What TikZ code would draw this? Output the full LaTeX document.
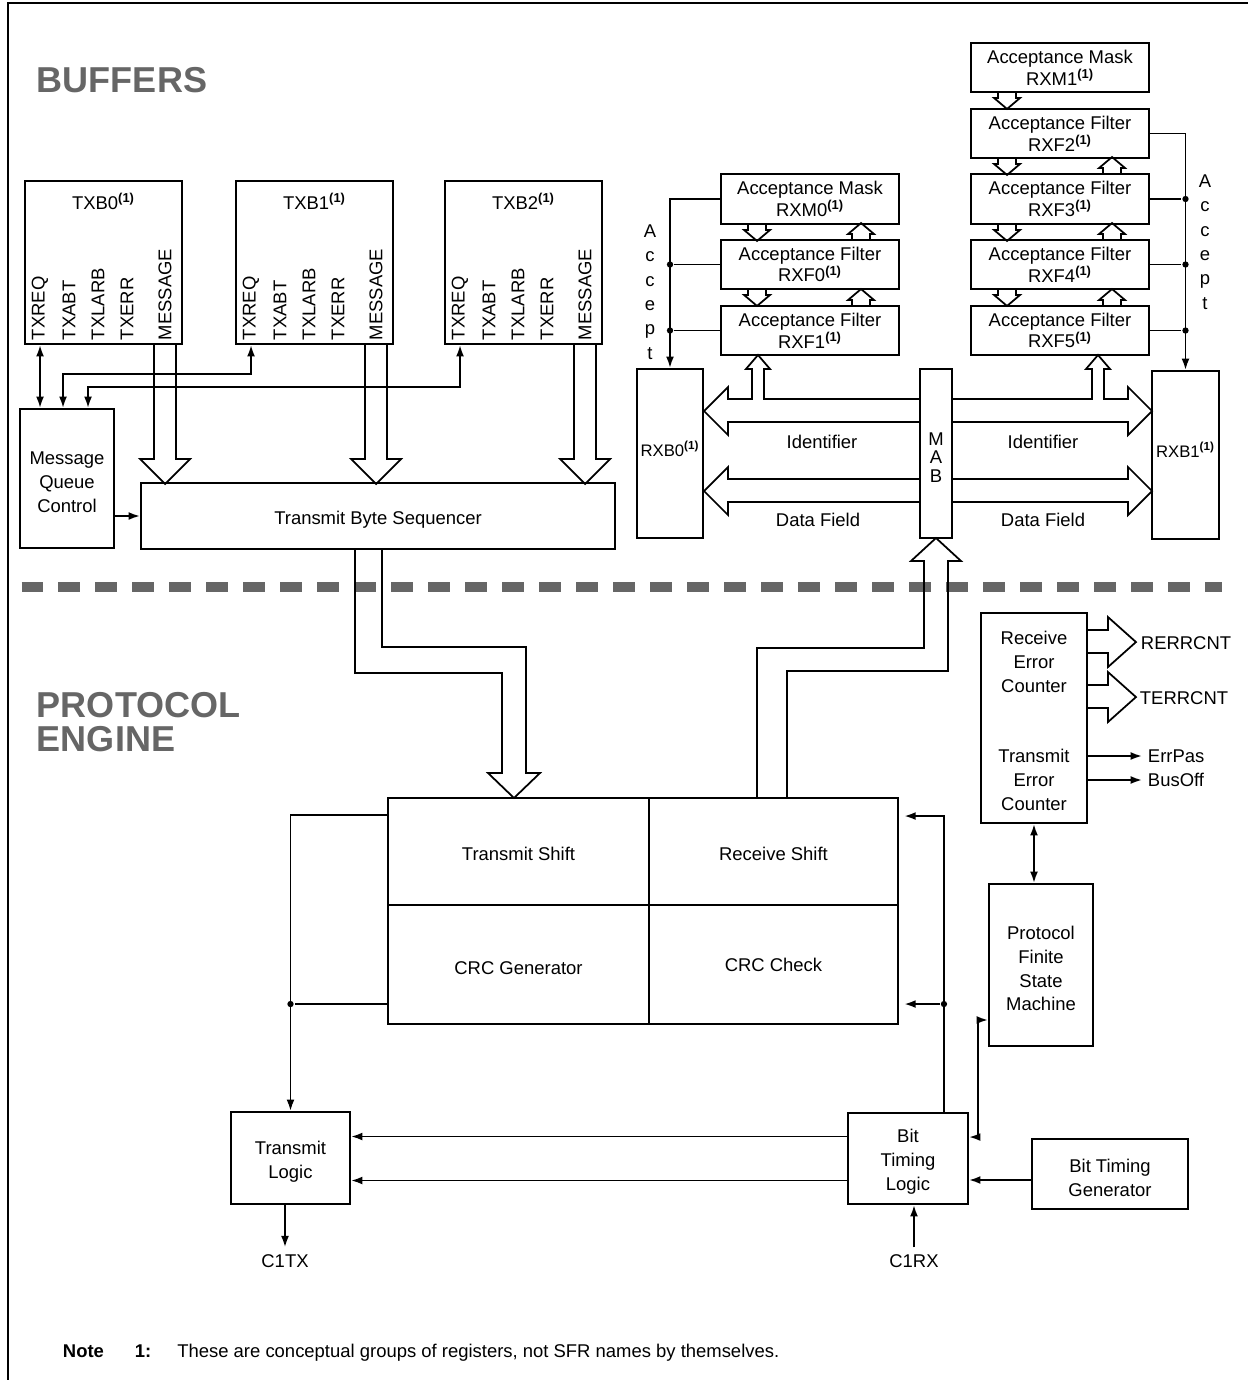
\documentclass[tikz,border=0pt]{standalone}
\usepackage{fontspec}
\setmainfont{Liberation Sans}
\usepackage{tikz}
\usetikzlibrary{arrows.meta,positioning,fit,calc}
\definecolor{headgray}{HTML}{666666}
\newcommand{\noteref}{\textsuperscript{\textbf{(1)}}}

\begin{document}
\begin{tikzpicture}[
    x=0.02cm, y=-0.02cm, line width=1.1pt,
    box/.style={draw,line width=1.1pt,inner sep=0pt},
    lbl/.style={inner sep=0pt,align=center,font=\fontsize{10.5}{13.6}\selectfont},
    inlbl/.style={lbl,yshift=-0.07cm},
    filt/.style={lbl,font=\fontsize{10.5}{12.4}\selectfont},
    vlbl/.style={lbl,rotate=90,anchor=west},
    acc/.style={lbl,font=\fontsize{10.5}{13.9}\selectfont},
    sechead/.style={inner sep=0pt,anchor=base west,text=headgray,font=\fontsize{20.5}{24}\selectfont\bfseries},
    bus/.style={draw,line width=1pt,line join=miter},
    sig/.style={-{Latex[length=6.5pt,width=4.5pt]},line width=1.1pt},
    dsig/.style={{Latex[length=6.5pt,width=4.5pt]}-{Latex[length=6.5pt,width=4.5pt]},line width=1.1pt},
    junc/.style={circle,fill,inner sep=0pt,minimum size=3.6pt},
    sepline/.style={line width=0.2cm,headgray,dash pattern=on 0.43cm off 0.31cm},
    smalldown/.pic={\draw[bus] (-9,0) -- (-9,5) -- (-13,5) -- (0,16) -- (13,5) -- (9,5) -- (9,0);},
    smallup/.pic={\draw[bus] (-9,0) -- (-9,-5) -- (-13,-5) -- (0,-16) -- (13,-5) -- (9,-5) -- (9,0);},
]
    \useasboundingbox (0,0) rectangle (1248,1380);
    \draw[line width=1.3pt] (8,1380) -- (8,3) -- (1248,3);

    \node[sechead] (hbuf) at (36,92) {BUFFERS};
    \node[sechead] (hproto) at (36,717) {PROTOCOL};
    \node[sechead] (hengine) at (36,751) {ENGINE};

    % transmit buffers
    \node[box,fit={(25,181)(182,344)}] (txb0) {};
    \node[box,fit={(236,181)(393,344)}] (txb1) {};
    \node[box,fit={(445,181)(602,344)}] (txb2) {};
    \node[lbl] (txb0t) at ($(txb0.north)+(0,21)$) {TXB0\noteref};
    \node[lbl] (txb1t) at ($(txb1.north)+(0,21)$) {TXB1\noteref};
    \node[lbl] (txb2t) at ($(txb2.north)+(0,21)$) {TXB2\noteref};

    \node[vlbl] (req0) at ($(txb0.south west)+(16,-4)$) {TXREQ};
    \node[vlbl] (abt0) at ($(txb0.south west)+(45,-4)$) {TXABT};
    \node[vlbl] (larb0) at ($(txb0.south west)+(74,-4)$) {TXLARB};
    \node[vlbl] (err0) at ($(txb0.south west)+(103,-4)$) {TXERR};
    \node[vlbl] (msg0) at ($(txb0.south west)+(141,-4)$) {MESSAGE};
    \node[vlbl] (req1) at ($(txb1.south west)+(16,-4)$) {TXREQ};
    \node[vlbl] (abt1) at ($(txb1.south west)+(45,-4)$) {TXABT};
    \node[vlbl] (larb1) at ($(txb1.south west)+(74,-4)$) {TXLARB};
    \node[vlbl] (err1) at ($(txb1.south west)+(103,-4)$) {TXERR};
    \node[vlbl] (msg1) at ($(txb1.south west)+(141,-4)$) {MESSAGE};
    \node[vlbl] (req2) at ($(txb2.south west)+(16,-4)$) {TXREQ};
    \node[vlbl] (abt2) at ($(txb2.south west)+(45,-4)$) {TXABT};
    \node[vlbl] (larb2) at ($(txb2.south west)+(74,-4)$) {TXLARB};
    \node[vlbl] (err2) at ($(txb2.south west)+(103,-4)$) {TXERR};
    \node[vlbl] (msg2) at ($(txb2.south west)+(141,-4)$) {MESSAGE};

    \node[box,fit={(20,409)(114,548)},label={[inlbl]center:{Message\\Queue\\Control}}] (mqc) {};
    \node[box,fit={(141,483)(615,549)},label={[inlbl]center:{Transmit Byte Sequencer}}] (tbs) {};

    \draw[dsig] (req0 |- txb0.south) -- (req0 |- mqc.north);
    \draw[dsig] (req1 |- txb1.south) |- ($(mqc.north west)+(44,-34)$) -- ($(mqc.north west)+(44,0)$);
    \draw[dsig] (req2 |- txb2.south) |- ($(mqc.north west)+(69,-21)$) -- ($(mqc.north west)+(69,0)$);
    \draw[sig] (mqc.east |- tbs.west) -- (tbs.west);

    \draw[bus] (msg0 |- txb0.south) ++(-11,0) -- ++(0,114) -- ++(-14,0) -- ++(25,25) -- ++(25,-25) -- ++(-14,0) -- ++(0,-114);
    \draw[bus] (msg1 |- txb1.south) ++(-11,0) -- ++(0,114) -- ++(-14,0) -- ++(25,25) -- ++(25,-25) -- ++(-14,0) -- ++(0,-114);
    \draw[bus] (msg2 |- txb2.south) ++(-11,0) -- ++(0,114) -- ++(-14,0) -- ++(25,25) -- ++(25,-25) -- ++(-14,0) -- ++(0,-114);

    % receive side
    \node[box,fit={(721,174)(899,224)},label={[filt]center:{Acceptance Mask\\RXM0\noteref}}] (rxm0) {};
    \node[box,fit={(721,240)(899,289)},label={[filt]center:{Acceptance Filter\\RXF0\noteref}}] (rxf0) {};
    \node[box,fit={(721,306)(899,355)},label={[filt]center:{Acceptance Filter\\RXF1\noteref}}] (rxf1) {};
    \node[box,fit={(971,43)(1149,92)},label={[filt]center:{Acceptance Mask\\RXM1\noteref}}] (rxm1) {};
    \node[box,fit={(971,109)(1149,158)},label={[filt]center:{Acceptance Filter\\RXF2\noteref}}] (rxf2) {};
    \node[box,fit={(971,174)(1149,224)},label={[filt]center:{Acceptance Filter\\RXF3\noteref}}] (rxf3) {};
    \node[box,fit={(971,240)(1149,289)},label={[filt]center:{Acceptance Filter\\RXF4\noteref}}] (rxf4) {};
    \node[box,fit={(971,306)(1149,355)},label={[filt]center:{Acceptance Filter\\RXF5\noteref}}] (rxf5) {};

    \pic at ($(rxm0.south west)+(37,0)$) {smalldown};
    \pic at ($(rxf0.north west)+(141,0)$) {smallup};
    \pic at ($(rxf0.south west)+(37,0)$) {smalldown};
    \pic at ($(rxf1.north west)+(141,0)$) {smallup};
    \pic at ($(rxm1.south west)+(37,0)$) {smalldown};
    \pic at ($(rxf2.south west)+(37,0)$) {smalldown};
    \pic at ($(rxf3.north west)+(142,0)$) {smallup};
    \pic at ($(rxf3.south west)+(37,0)$) {smalldown};
    \pic at ($(rxf4.north west)+(142,0)$) {smallup};
    \pic at ($(rxf4.south west)+(37,0)$) {smalldown};
    \pic at ($(rxf5.north west)+(142,0)$) {smallup};

    \node[box,fit={(637,369)(703,538)},label={[lbl,font=\fontsize{9.5}{12}\selectfont,yshift=0.1cm]center:{RXB0\noteref}}] (rxb0) {};
    \node[box,fit={(1152,371)(1219,539)},label={[lbl,font=\fontsize{9.5}{12}\selectfont,yshift=0.1cm]center:{RXB1\noteref}}] (rxb1) {};
    \node[box,fit={(920,369)(952,538)},label={[lbl,font=\fontsize{10.5}{10.6}\selectfont,yshift=-0.08cm]center:{M\\A\\B}}] (mab) {};

    \draw[sig] (rxm0.west) -| (rxb0.north);
    \node[junc] (ja0) at (rxf0.west -| rxb0.north) {};
    \node[junc] (ja1) at (rxf1.west -| rxb0.north) {};
    \draw (rxf0.west) -- (ja0);
    \draw (rxf1.west) -- (ja1);
    \node[acc] (acc0) at (650,292) {A\\c\\c\\e\\p\\t};

    \draw[sig] (rxf2.east) -| (rxb1.north);
    \node[junc] (ja3) at (rxf3.east -| rxb1.north) {};
    \node[junc] (ja4) at (rxf4.east -| rxb1.north) {};
    \node[junc] (ja5) at (rxf5.east -| rxb1.north) {};
    \draw (rxf3.east) -- (ja3);
    \draw (rxf4.east) -- (ja4);
    \draw (rxf5.east) -- (ja5);
    \node[acc] (acc1) at (1205,242) {A\\c\\c\\e\\p\\t};

    % identifier and data buses
    \draw[bus] (920,399) -- (764,399) -- (764,369) -- (770,369) -- (758,355) -- (746,369) -- (752,369) -- (752,399) -- (728,399) -- (728,387) -- (704,411) -- (728,435) -- (728,422) -- (920,422);
    \draw[bus] (952,399) -- (1092,399) -- (1092,369) -- (1086,369) -- (1098,355) -- (1110,369) -- (1104,369) -- (1104,399) -- (1128,399) -- (1128,387) -- (1152,411) -- (1128,435) -- (1128,422) -- (952,422);
    \draw[bus] (920,479) -- (728,479) -- (728,467) -- (704,491) -- (728,515) -- (728,502) -- (920,502);
    \draw[bus] (952,479) -- (1128,479) -- (1128,467) -- (1152,491) -- (1128,515) -- (1128,502) -- (952,502);
    \node[lbl] (idl) at (822,442) {Identifier};
    \node[lbl] (idr) at (1043,442) {Identifier};
    \node[lbl] (dfl) at (818,520) {Data Field};
    \node[lbl] (dfr) at (1043,520) {Data Field};

    \draw[sepline] (21.5,587) -- (1222,587);

    % protocol engine
    \node[box,fit={(388,798)(649,905)},label={[lbl,yshift=-0.05cm]center:{Transmit Shift}}] (ts) {};
    \node[box,fit={(649,798)(898,905)},label={[lbl,yshift=-0.05cm]center:{Receive Shift}}] (rs) {};
    \node[box,fit={(388,905)(649,1024)},label={[inlbl]center:{CRC Generator}}] (crcg) {};
    \node[box,fit={(649,905)(898,1024)},label={[lbl]center:{CRC Check}}] (crcc) {};

    \draw[bus] (355,549) -- (355,673) -- (502,673) -- (502,773) -- (488,773) -- (514,798) -- (540,773) -- (526,773) -- (526,647) -- (382,647) -- (382,549);
    \draw[bus] (757,798) -- (757,648) -- (924,648) -- (924,561) -- (911,561) -- (936,538) -- (961,561) -- (948,561) -- (948,671) -- (787,671) -- (787,798);

    \node[box,fit={(981,613)(1087,823)}] (errc) {};
    \node[lbl] (rect) at (1034,662) {Receive\\Error\\Counter};
    \node[lbl] (tect) at (1034,780) {Transmit\\Error\\Counter};
    \draw[bus] ($(errc.north east)+(0,18)$) -- ++(20,0) -- ++(0,-13) -- ++(28,25) -- ++(-28,25) -- ++(0,-14) -- ++(-20,0);
    \draw[bus] ($(errc.north east)+(0,73)$) -- ++(20,0) -- ++(0,-13) -- ++(28,25) -- ++(-28,25) -- ++(0,-14) -- ++(-20,0);
    \node[lbl,anchor=west] (rerr) at (1140,643) {RERRCNT};
    \node[lbl,anchor=west] (terr) at (1139,698) {TERRCNT};
    \node[lbl,anchor=west] (errpas) at (1147,756) {ErrPas};
    \node[lbl,anchor=west] (busoff) at (1147,780) {BusOff};
    \draw[sig,shorten >=2.8pt] (errc.east |- errpas.west) -- (errpas.west);
    \draw[sig,shorten >=2.8pt] (errc.east |- busoff.west) -- (busoff.west);

    \node[box,fit={(989,884)(1093,1046)},label={[inlbl]center:{Protocol\\Finite\\State\\Machine}}] (pfsm) {};
    \draw[dsig] (errc.south) -- (errc.south |- pfsm.north);

    \node[box,fit={(231,1112)(350,1204)},label={[inlbl]center:{Transmit\\Logic}}] (tl) {};
    \node[box,fit={(848,1113)(968,1204)},label={[inlbl]center:{Bit\\Timing\\Logic}}] (btl) {};
    \node[box,fit={(1032,1139)(1188,1209)},label={[inlbl]center:{Bit Timing\\Generator}}] (btg) {};

    \draw[dsig] ($(pfsm.south west)+(0,-27)$) -| ($(btl.north east)+(9,25)$) -- ($(btl.north east)+(0,25)$);

    \coordinate (bt) at ($(btl.north east)+(-25,0)$);
    \draw[sig,shorten >=3pt] (bt) |- ($(rs.north east)+(0,19)$);
    \node[junc] (jr) at ($(bt)+(0,-108)$) {};
    \draw[sig,shorten >=3pt] (jr) -- (jr -| crcc.east);

    \draw[sig] ($(ts.north west)+(0,18)$) -| (tl.north);
    \node[junc] (jl) at (tl.north |- jr) {};
    \draw (crcg.west |- jl) -- (jl);

    \coordinate (bl1) at ($(btl.west)+(0,-22)$);
    \coordinate (bl2) at ($(btl.west)+(0,22)$);
    \draw[sig] (bl1) -- (bl1 -| tl.east);
    \draw[sig] (bl2) -- (bl2 -| tl.east);
    \coordinate (bg) at ($(btg.west)+(0,6)$);
    \draw[sig] (bg) -- (bg -| btl.east);

    \node[lbl] (c1tx) at (285,1261) {C1TX};
    \node[lbl] (c1rx) at (914,1261) {C1RX};
    \draw[sig,shorten >=3.5pt] (tl.south -| c1tx) -- (c1tx.north);
    \draw[sig,shorten <=3.5pt] (c1rx.north) -- (c1rx.north |- btl.south);

    \node[lbl,anchor=base west] (note) at (62,1357) {\textbf{Note\hspace{0.62cm}1:}\hspace{0.52cm}These are conceptual groups of registers, not SFR names by themselves.};
\end{tikzpicture}
\end{document}
